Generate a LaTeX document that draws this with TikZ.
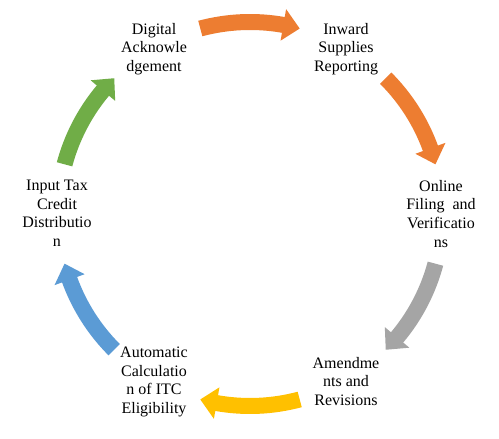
\documentclass[tikz,border=0pt]{standalone}
\usepackage{fontspec}
\setmainfont{Liberation Serif}
\usetikzlibrary{calc}
\definecolor{aorange}{HTML}{ED7D31}
\definecolor{agray}{HTML}{A5A5A5}
\definecolor{ayellow}{HTML}{FFC000}
\definecolor{ablue}{HTML}{5B9BD5}
\definecolor{agreen}{HTML}{70AD47}
\tikzset{
  lbl/.style={anchor=north, inner sep=0pt, align=center, font=\fontsize{16}{18.6}\selectfont},
}
\begin{document}
\begin{tikzpicture}[x=1pt,y=1pt]
\fill[white] (0,0) rectangle (499,439);
\useasboundingbox (0,0) rectangle (499,439);
\coordinate (c) at (250,225);
% labels (north = top of first line)
\node[lbl] (dig) at (154,416) {Digital\\Acknowle\\dgement};
\node[lbl] (inw) at (346,416) {Inward\\Supplies\\Reporting};
\node[lbl] (onl) at (441,259) {Online\\Filing\ \ and\\Verificatio\\ns};
\node[lbl] (ame) at (346,82) {Amendme\\nts and\\Revisions};
\node[lbl] (aut) at (154,92) {Automatic\\Calculatio\\n of ITC\\Eligibility};
\node[lbl] (inp) at (57,259) {Input Tax\\Credit\\Distributio\\n};
% circular block arrows
\def\R{192}
\foreach \m/\col in {90/aorange, 30/aorange, -30/agray, -90/ayellow, -150/ablue, 150/agreen}{
  \pgfmathsetmacro{\aone}{\m+15}
  \pgfmathsetmacro{\atip}{\m-15}
  \pgfmathsetmacro{\ab}{\m-10}
  \fill[\col] ($(c)+(\aone:\R+8)$) arc[start angle=\aone, end angle=\ab, radius=\R+8]
     -- ($(c)+(\ab:\R+16)$) -- ($(c)+(\atip:\R)$) -- ($(c)+(\ab:\R-16)$)
     -- ($(c)+(\ab:\R-8)$) arc[start angle=\ab, end angle=\aone, radius=\R-8] -- cycle;
}
\end{tikzpicture}
\end{document}
